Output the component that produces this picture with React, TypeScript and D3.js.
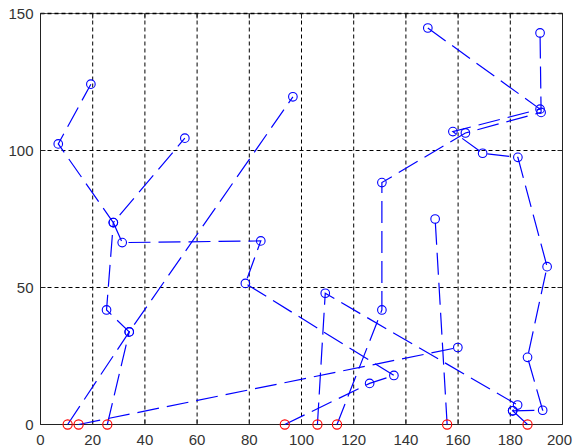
import React from "react";
import * as d3 from "d3";

// depots (red markers on the x axis)
const depotX = [10.4, 14.6, 25.6, 93.6, 106.1, 113.6, 155.8, 186.6];
const depotY = [0, 0, 0, 0, 0, 0, 0, 0];

// routes (blue dashed polylines with circle markers)
const route1X = [10.4, 34.0, 96.7];
const route1Y = [0, 33.8, 119.6];
const route2X = [25.6, 34.0, 25.3, 27.9, 6.8, 19.3];
const route2Y = [0, 33.8, 41.8, 73.7, 102.4, 124.2];
const route3X = [93.6, 126.1, 135.4, 78.5, 84.4, 31.3, 27.9, 55.3];
const route3Y = [0, 15.0, 17.9, 51.5, 67.0, 66.4, 73.7, 104.5];
const route4X = [14.6, 159.9];
const route4Y = [0, 28.1];
const route5X = [106.1, 109.1, 182.8, 180.9, 186.6];
const route5Y = [0, 47.9, 7.1, 5.0, 0];
const route6X = [113.6, 130.8, 130.8, 162.8, 191.8, 191.4];
const route6Y = [0, 41.8, 88.3, 106.4, 113.9, 142.9];
const route7X = [148.4, 191.4, 158.0, 169.4, 182.9, 194.1, 186.6, 192.4, 180.9];
const route7Y = [144.7, 115.1, 106.9, 99.0, 97.5, 57.6, 24.5, 5.2, 5.0];
const route8X = [155.8, 151.2];
const route8Y = [0, 75.0];

const routesX = [route1X, route2X, route3X, route4X, route5X, route6X, route7X, route8X];
const routesY = [route1Y, route2Y, route3Y, route4Y, route5Y, route6Y, route7Y, route8Y];

const xTicks = [0, 20, 40, 60, 80, 100, 120, 140, 160, 180, 200];
const yTicks = [0, 50, 100, 150];

export default function App() {
  const W = 573, H = 448;
  const left = 40.5, right = 562.5, top = 13.5, bottom = 424.5;
  const x = d3.scaleLinear().domain([0, 200]).range([left, right]);
  const y = d3.scaleLinear().domain([0, 150]).range([bottom, top]);
  const line = d3.line<[number, number]>().x(d => x(d[0])).y(d => y(d[1]));

  const isDepot = (px: number, py: number) =>
    depotX.some((dx, i) => Math.abs(dx - px) < 0.01 && Math.abs(depotY[i] - py) < 0.01);

  const font = "'Liberation Sans', Arial, sans-serif";

  return (
    <svg width={W} height={H} style={{ position: "fixed", left: 0, top: 0, background: "#fff" }}>
      <rect x={0} y={0} width={W} height={H} fill="#fff" />
      {/* grid */}
      {xTicks.filter(t => t > 0 && t < 200).map(t => (
        <line key={"gx" + t} x1={x(t)} x2={x(t)} y1={top} y2={bottom} stroke="#000" strokeWidth={1} strokeDasharray="4 3" />
      ))}
      {yTicks.filter(t => t > 0 && t < 150).map(t => (
        <line key={"gy" + t} x1={left} x2={right} y1={y(t)} y2={y(t)} stroke="#000" strokeWidth={1} strokeDasharray="4 3" />
      ))}
      {/* box */}
      <line x1={left} x2={right} y1={top} y2={top} stroke="#666" strokeWidth={1} />
      <line x1={left} x2={right} y1={top} y2={top} stroke="#000" strokeWidth={1.5} strokeDasharray="4 3" />
      <line x1={right} x2={right} y1={top} y2={bottom} stroke="#222" strokeWidth={1} />
      <line x1={left} x2={left} y1={top} y2={bottom} stroke="#222" strokeWidth={1} />
      <line x1={left} x2={right} y1={bottom} y2={bottom} stroke="#222" strokeWidth={1.2} />
      {/* ticks */}
      {xTicks.map(t => (
        <g key={"tx" + t}>
          <line x1={x(t)} x2={x(t)} y1={bottom} y2={bottom - 5} stroke="#222" />
          <line x1={x(t)} x2={x(t)} y1={top} y2={top + 5} stroke="#222" />
          <text x={t === 200 ? x(t) - 3 : x(t)} y={bottom + 20} textAnchor="middle" fontFamily={font} fontSize={15} fill="#333">{t}</text>
        </g>
      ))}
      {yTicks.map(t => (
        <g key={"ty" + t}>
          <line x1={left} x2={left + 5} y1={y(t)} y2={y(t)} stroke="#222" />
          <line x1={right} x2={right - 5} y1={y(t)} y2={y(t)} stroke="#222" />
          <text x={left - 7} y={y(t) + 5} textAnchor="end" fontFamily={font} fontSize={15} fill="#333">{t}</text>
        </g>
      ))}
      {/* routes */}
      {routesX.map((rx, i) => {
        const pts = rx.map((v, j) => [v, routesY[i][j]] as [number, number]);
        return (
          <g key={"r" + i}>
            <path d={line(pts) || ""} fill="none" stroke="#0000ff" strokeWidth={1.2} strokeDasharray="22 8" />
            {pts.filter(p => !isDepot(p[0], p[1])).map((p, j) => (
              <circle key={j} cx={x(p[0])} cy={y(p[1])} r={4.3} fill="none" stroke="#0000ff" strokeWidth={1.1} />
            ))}
          </g>
        );
      })}
      {/* depots */}
      {depotX.map((dx, i) => (
        <circle key={"d" + i} cx={x(dx)} cy={y(depotY[i])} r={4.6} fill="none" stroke="#ff0000" strokeWidth={1.1} />
      ))}
    </svg>
  );
}
